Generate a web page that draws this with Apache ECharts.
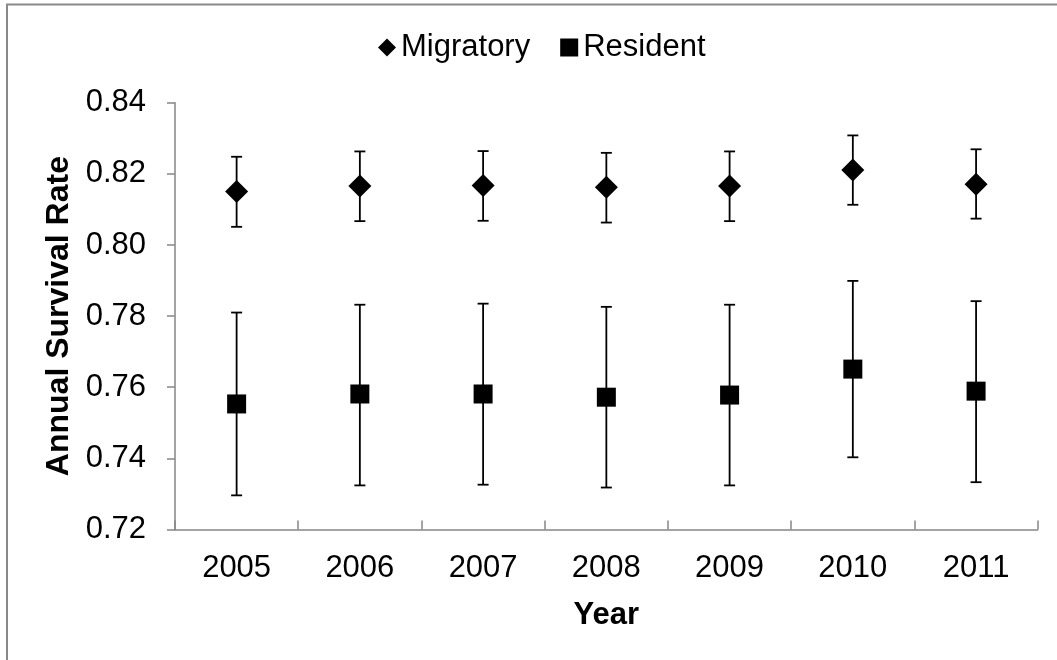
<!DOCTYPE html>
<html>
<head>
<meta charset="utf-8">
<script src="https://cdn.jsdelivr.net/npm/echarts@6/dist/echarts.min.js"></script>
<style>
html,body{margin:0;padding:0;background:#fff;}
#chart{width:1057px;height:660px;}
</style>
</head>
<body>
<div id="chart"></div>
<script>
const years = ['2005','2006','2007','2008','2009','2010','2011'];
const migratory = [0.8150, 0.8166, 0.8167, 0.8162, 0.8166, 0.8211, 0.8171];
const migratoryLower = [0.8051, 0.8067, 0.8068, 0.8063, 0.8067, 0.8113, 0.8074];
const migratoryUpper = [0.8248, 0.8263, 0.8264, 0.8259, 0.8263, 0.8308, 0.8269];
const resident = [0.7553, 0.7581, 0.7581, 0.7572, 0.7578, 0.7651, 0.7589];
const residentLower = [0.7296, 0.7324, 0.7326, 0.7318, 0.7324, 0.7403, 0.7333];
const residentUpper = [0.7810, 0.7832, 0.7835, 0.7826, 0.7832, 0.7899, 0.7842];
const yTicks = { min: 0.72, max: 0.84, interval: 0.02 };

const FONT = "'Liberation Sans', Arial, sans-serif";
const AXIS_GRAY = '#868686';

function errData(lo, hi) {
  return lo.map((v, i) => [i, v, hi[i]]);
}
function renderErr(params, api) {
  const i = api.value(0);
  const lo = api.coord([i, api.value(1)]);
  const hi = api.coord([i, api.value(2)]);
  const cap = 5.5;
  const style = { stroke: '#000', lineWidth: 1.8 };
  return {
    type: 'group',
    children: [
      { type: 'line', shape: { x1: lo[0], y1: lo[1], x2: hi[0], y2: hi[1] }, style },
      { type: 'line', shape: { x1: lo[0] - cap, y1: lo[1], x2: lo[0] + cap, y2: lo[1] }, style },
      { type: 'line', shape: { x1: hi[0] - cap, y1: hi[1], x2: hi[0] + cap, y2: hi[1] }, style }
    ]
  };
}

const chart = echarts.init(document.getElementById('chart'), null, { renderer: 'canvas' });
chart.setOption({
  animation: false,
  backgroundColor: '#fff',
  graphic: [{
    type: 'rect',
    shape: { x: 7, y: 4.5, width: 1200, height: 800 },
    style: { fill: 'none', stroke: '#898989', lineWidth: 2 },
    silent: true
  }],
  legend: {
    left: 373,
    top: 27,
    itemWidth: 18,
    itemHeight: 18,
    itemGap: 30,
    textStyle: { fontFamily: FONT, fontSize: 31, color: '#000', padding: [0, 0, 0, 0] },
    data: [
      { name: 'Migratory', icon: 'diamond' },
      { name: 'Resident', icon: 'rect' }
    ]
  },
  grid: { left: 175, right: 19.3, top: 102.7, bottom: 130.5, containLabel: false },
  xAxis: {
    type: 'category',
    data: years,
    boundaryGap: true,
    name: 'Year',
    nameLocation: 'middle',
    nameGap: 70,
    nameTextStyle: { fontFamily: FONT, fontSize: 31, fontWeight: 'bold', color: '#000' },
    axisLine: { lineStyle: { color: AXIS_GRAY, width: 1.5 } },
    axisTick: { show: true, inside: true, length: 9, alignWithLabel: false, lineStyle: { color: AXIS_GRAY, width: 1.5 } },
    axisLabel: { fontFamily: FONT, fontSize: 31, color: '#000', margin: 23, interval: 0 },
    splitLine: { show: false }
  },
  yAxis: {
    type: 'value',
    min: yTicks.min,
    max: yTicks.max,
    interval: yTicks.interval,
    name: 'Annual Survival Rate',
    nameLocation: 'middle',
    nameGap: 100,
    nameTextStyle: { fontFamily: FONT, fontSize: 32, fontWeight: 'bold', color: '#000' },
    axisLine: { show: true, lineStyle: { color: AXIS_GRAY, width: 1.5 } },
    axisTick: { show: true, inside: false, length: 8, lineStyle: { color: AXIS_GRAY, width: 1.5 } },
    axisLabel: { fontFamily: FONT, fontSize: 31, color: '#000', margin: 29, formatter: v => v.toFixed(2) },
    splitLine: { show: false }
  },
  series: [
    {
      name: 'Migratory error', type: 'custom', renderItem: renderErr,
      data: errData(migratoryLower, migratoryUpper), z: 1, silent: true,
      encode: { x: 0, y: [1, 2] }
    },
    {
      name: 'Resident error', type: 'custom', renderItem: renderErr,
      data: errData(residentLower, residentUpper), z: 1, silent: true,
      encode: { x: 0, y: [1, 2] }
    },
    {
      name: 'Migratory', type: 'scatter', data: migratory,
      symbol: 'diamond', symbolSize: 23, z: 3,
      itemStyle: { color: '#000', opacity: 1 }
    },
    {
      name: 'Resident', type: 'scatter', data: resident,
      symbol: 'rect', symbolSize: 19, z: 3,
      itemStyle: { color: '#000', opacity: 1 }
    }
  ]
});
</script>
</body>
</html>
